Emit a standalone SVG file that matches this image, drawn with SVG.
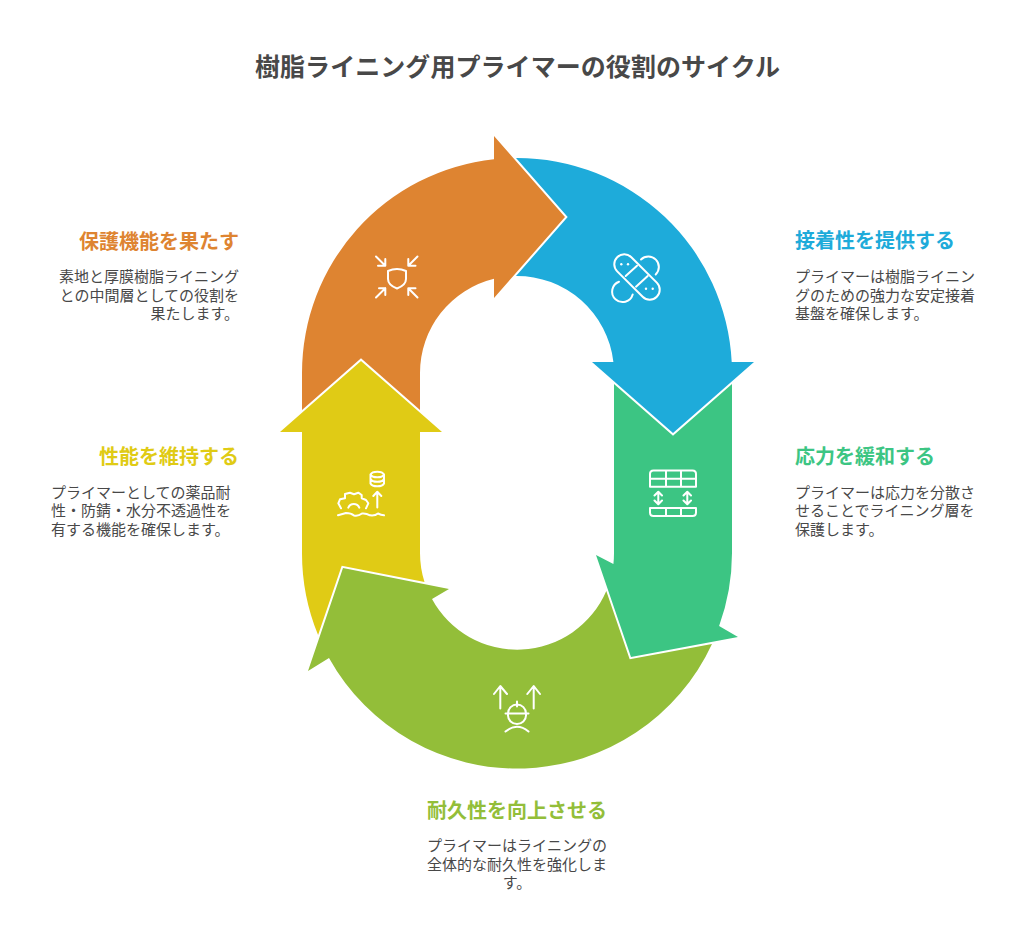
<svg xmlns="http://www.w3.org/2000/svg" width="1034" height="944" viewBox="0 0 1034 944">
<style>
text{font-family:"Noto Sans CJK JP","Noto Sans",sans-serif}
.t{font-size:25px;font-weight:700;fill:#484848;text-anchor:middle}
.h{font-size:20px;font-weight:700}
.b{font-size:15px;fill:#484848}
.e{text-anchor:end}.m{text-anchor:middle}
.i{fill:none;stroke:#fff;stroke-width:2;stroke-linecap:round;stroke-linejoin:round}
.d{fill:#fff}
</style>
<rect width="1034" height="944" fill="#fff"/>
<text class="t" x="517.5" y="76" textLength="525" lengthAdjust="spacing">樹脂ライニング用プライマーの役割のサイクル</text>

<g id="node-blue">
<path fill="#1EABDA" d="M516 158A215 215 0 0 1 731.7 362H754L673 433L592 362H613.4A97 97 0 0 0 516 276L567.7 217Z"/>
<g class="i">
<rect x="609" y="267" width="56" height="20" rx="10" transform="rotate(45 637 277)"/>
<path d="M625.7 276L637 265.7M636 286.7L647.7 276M641 259.5A10.5 10.5 0 1 1 655.7 274.5M619 281.7A10.5 10.5 0 1 0 632.7 294.5"/>
</g>
<circle class="d" cx="621.3" cy="264.3" r="1.2"/><circle class="d" cx="628" cy="264.3" r="1.2"/>
<circle class="d" cx="646" cy="288.7" r="1.2"/><circle class="d" cx="652.7" cy="288.7" r="1.2"/>
<text class="h" x="795" y="248" fill="#1EABDA">接着性を提供する</text>
<text class="b" x="795" y="282">プライマーは樹脂ライニン</text>
<text class="b" x="795" y="300.5">グのための強力な安定接着</text>
<text class="b" x="795" y="318.5">基盤を確保します。</text>
</g>

<g id="node-green">
<path fill="#3CC583" d="M614 384L673 435.7L732 384V553A215 215 0 0 1 719.1 626L738 637L631 657L596 555L613.4 564A97 97 0 0 0 614 553Z"/>
<path class="i" d="M650 486.7V474Q650 470.5 653.5 470.5H692.5Q696 470.5 696 474V486.7ZM650 478.7H696M666 470.5V486.7M681 470.5V486.7M650 508H696V512.5Q696 516 692.5 516H653.5Q650 516 650 512.5ZM666 508V516M681 508V516M658.3 492V504M654.5 495.5L658.3 491.7L662 495.5M654.5 500.5L658.3 504.3L662 500.5M687.3 492V504M683.5 495.5L687.3 491.7L691 495.5M683.5 500.5L687.3 504.3L691 500.5"/>
<text class="h" x="795" y="464" fill="#3CC583">応力を緩和する</text>
<text class="b" x="795" y="498">プライマーは応力を分散さ</text>
<text class="b" x="795" y="516">せることでライニング層を</text>
<text class="b" x="795" y="534.5">保護します。</text>
</g>

<g id="node-olive">
<path fill="#93BE39" d="M712 643.9A215 215 0 0 1 329 658L308 671L343 568L449 589L432 599A97 97 0 0 0 606.3 591L629.7 659.3Z"/>
<path class="i" d="M500.3 686.5V708.5M494 694L500.3 686L507 694M533.7 686.5V708.5M527.3 694L533.7 686L540 694M505.5 713.5H528.5M508 713.5A9 9 0 0 1 526 713.5V715.5A9 8.5 0 0 1 508 715.5ZM517 701.5V706.5M505.5 731.5Q517 722 528.5 731.5"/>
<text class="h m" x="517" y="818" fill="#93BE39">耐久性を向上させる</text>
<text class="b m" x="517" y="851">プライマーはライニングの</text>
<text class="b m" x="517" y="869.5">全体的な耐久性を強化しま</text>
<text class="b m" x="517" y="887.5">す。</text>
</g>

<g id="node-yellow">
<path fill="#E0CB15" d="M361 361L442 432H420V553A97 97 0 0 0 424.5 582.1L341.7 565.7L318.1 635A215 215 0 0 1 302 553V432H280Z"/>
<path class="i" d="M370.5 474.5A7 3.8 0 0 1 384 474.5V483.5A7 3.8 0 0 1 370.5 483.5ZM370.5 474.5A7 3.8 0 0 0 384 474.5M370.5 479A7 3.8 0 0 0 384 479M377.3 492V507.5M373.3 496L377.3 491.7L381.3 496M338 515.3Q343 514 346 513Q351 513 354 515.5Q358 516.5 362 513.5Q366 513 370 515.3Q375 516 378 513.5Q381 515 384 515.3M341 508.3L338.3 503.3L340 499.3L345 498.3L345 494L350 492.7L354 494.3L358.3 492.7L361.7 495L361.7 498.3L366 500L368.3 503.3L366 508.3M348.3 507.7A6 6 0 0 1 359.3 507.7"/>
<text class="h e" x="239" y="464" fill="#E0CB15">性能を維持する</text>
<text class="b" x="51" y="498">プライマーとしての薬品耐</text>
<text class="b" x="51" y="516">性・防錆・水分不透過性を</text>
<text class="b" x="51" y="534.5">有する機能を確保します。</text>
</g>

<g id="node-orange">
<path fill="#DE8431" d="M302 410V373A215 215 0 0 1 494 159.2V136L565 217L494 298V278.8A97 97 0 0 0 420 373V410L361 358.3Z"/>
<path class="i" d="M388 271Q397 267 406 271V279Q406 285 397 288.5Q388 285 388 279ZM376 256.5L385.3 265.7M385.3 259V265.7H378M417.5 256.5L408.3 265.7M408.3 259V265.7H415.5M376 297.5L385.3 288.3M379 288.3H385.3V295M417.5 297.5L408.3 288.3M408.3 295V288.3H415.5"/>
<text class="h e" x="239" y="249" fill="#DE8431">保護機能を果たす</text>
<text class="b e" x="239" y="282">素地と厚膜樹脂ライニング</text>
<text class="b e" x="239" y="300.5">との中間層としての役割を</text>
<text class="b e" x="239" y="318.5">果たします。</text>
</g>
<g id="connectors"/>
</svg>
